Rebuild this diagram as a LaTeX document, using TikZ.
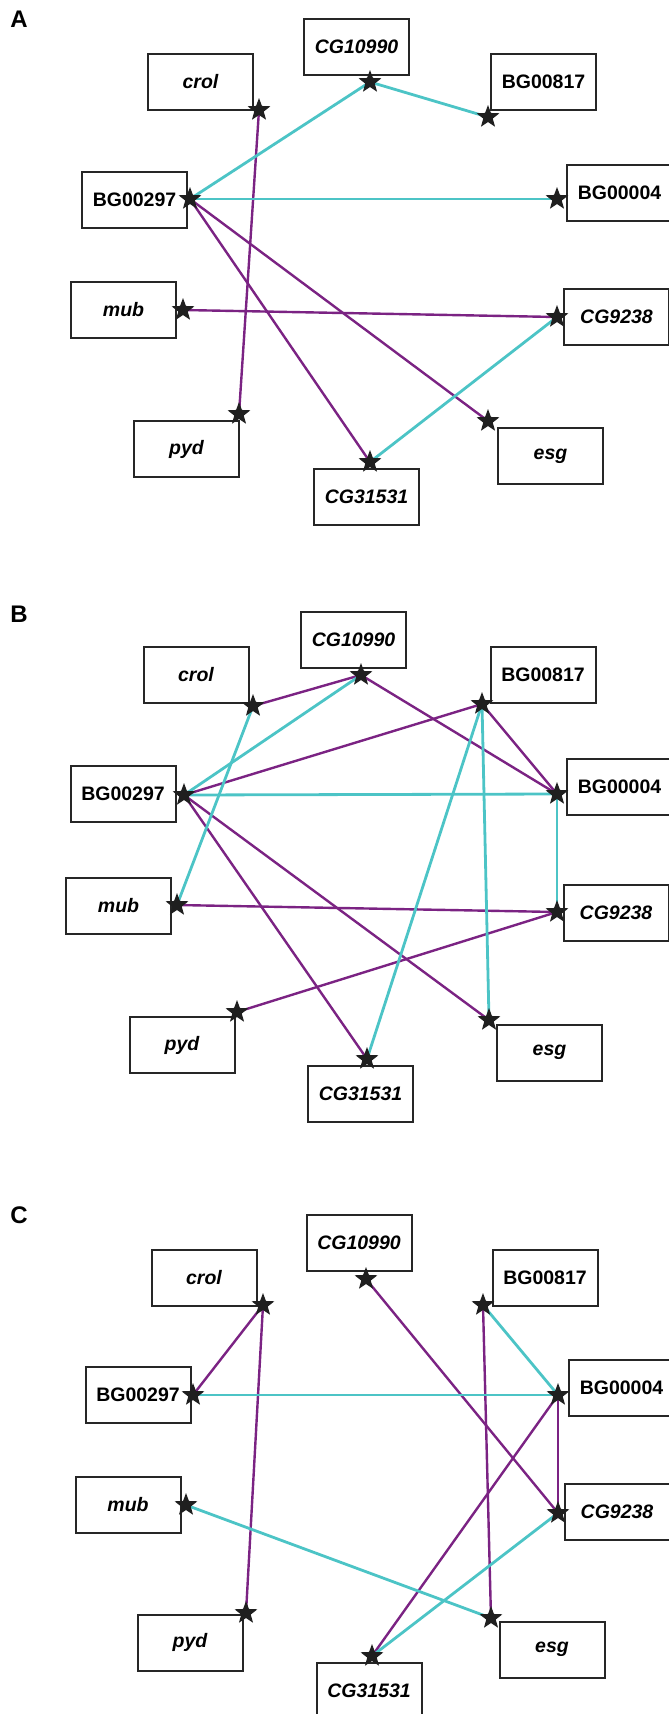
\documentclass[tikz,border=0pt]{standalone}
\usepackage{fontspec}
\setmainfont{Liberation Sans}
\usetikzlibrary{shapes.geometric,backgrounds}
\definecolor{cyanlink}{HTML}{4CC4C6}
\definecolor{plumlink}{HTML}{7B2383}

\begin{document}
\begin{tikzpicture}[x=1pt, y=-1pt,
    box/.style={draw=black!85, line width=2pt, minimum width=105pt, minimum height=56pt,
                inner sep=0pt, font=\fontsize{19.5}{20}\selectfont\bfseries},
    gene/.style={box, font=\fontsize{19.5}{20}\selectfont\bfseries\itshape},
    hub/.style={star, star points=5, star point ratio=2.4, fill=black!88, inner sep=0pt,
                minimum size=24pt},
    cy/.style={draw=cyanlink, line width=2.8pt},
    pu/.style={draw=plumlink, line width=2.4pt},
    panel/.style={font=\fontsize{24}{24}\selectfont\bfseries}]
  \useasboundingbox (0,0) rectangle (669,1714);

  % panel A
  \node[panel] (labA) at (19,19) {A};
  \node[gene] (A-crol)    at (200.5,82)  {crol};
  \node[gene] (A-CG10990) at (356.5,47)  {CG10990};
  \node[box]  (A-BG00817) at (543.5,82)  {BG00817};
  \node[box]  (A-BG00297) at (134.5,199.5) {BG00297};
  \node[box]  (A-BG00004) at (619.5,193) {BG00004};
  \node[gene] (A-mub)     at (123.5,310) {mub};
  \node[gene] (A-CG9238)  at (616.5,317) {CG9238};
  \node[gene] (A-pyd)     at (186.5,449) {pyd};
  \node[gene] (A-CG31531) at (366.5,497) {CG31531};
  \node[gene] (A-esg)     at (550.5,456) {esg};
  \foreach \n/\p in {crol/{259,110}, CG10990/{370,82}, BG00817/{488,117}, BG00297/{190,199},
                     BG00004/{557,199}, mub/{183,310}, CG9238/{557,317}, pyd/{239,414},
                     CG31531/{370,462}, esg/{488,421}}
    \node[hub] (sA-\n) at (\p) {};
  \begin{scope}[on background layer]
    \foreach \a/\b in {crol/pyd, mub/CG9238, BG00297/CG31531, BG00297/esg}
      \draw[pu] (sA-\a.center) -- (sA-\b.center);
    \foreach \a/\b in {BG00297/CG10990, CG10990/BG00817, BG00297/BG00004, CG9238/CG31531}
      \draw[cy] (sA-\a.center) -- (sA-\b.center);
  \end{scope}

  % panel B
  \node[panel] (labB) at (19,614) {B};
  \node[gene] (B-crol)    at (196,674.5)   {crol};
  \node[gene] (B-CG10990) at (353.5,640)   {CG10990};
  \node[box]  (B-BG00817) at (543,674.5)   {BG00817};
  \node[box]  (B-BG00297) at (123,793.5)   {BG00297};
  \node[box]  (B-BG00004) at (619.5,786.5) {BG00004};
  \node[gene] (B-mub)     at (118.5,905.5) {mub};
  \node[gene] (B-CG9238)  at (616,912.5)   {CG9238};
  \node[gene] (B-pyd)     at (182,1045)    {pyd};
  \node[gene] (B-CG31531) at (360.5,1094)  {CG31531};
  \node[gene] (B-esg)     at (549.5,1052.5) {esg};
  \foreach \n/\p in {crol/{253,706}, CG10990/{361,675}, BG00817/{482,704}, BG00297/{184,795},
                     BG00004/{557,794}, mub/{177,905}, CG9238/{557,912}, pyd/{237,1012},
                     CG31531/{367,1059}, esg/{489,1020}}
    \node[hub] (sB-\n) at (\p) {};
  \begin{scope}[on background layer]
    \foreach \a/\b in {crol/CG10990, CG10990/BG00004, BG00297/BG00817, BG00817/BG00004,
                       BG00297/CG31531, BG00297/esg, mub/CG9238, CG9238/pyd}
      \draw[pu] (sB-\a.center) -- (sB-\b.center);
    \foreach \a/\b in {BG00297/CG10990, crol/mub, BG00297/BG00004, BG00004/CG9238,
                       BG00817/CG31531, BG00817/esg}
      \draw[cy] (sB-\a.center) -- (sB-\b.center);
  \end{scope}

  % panel C
  \node[panel] (labC) at (19,1215) {C};
  \node[gene] (C-crol)    at (204,1278)   {crol};
  \node[gene] (C-CG10990) at (359,1243)   {CG10990};
  \node[box]  (C-BG00817) at (545,1278)   {BG00817};
  \node[box]  (C-BG00297) at (138,1395)   {BG00297};
  \node[box]  (C-BG00004) at (621.5,1388) {BG00004};
  \node[gene] (C-mub)     at (128,1505)   {mub};
  \node[gene] (C-CG9238)  at (617,1512)   {CG9238};
  \node[gene] (C-pyd)     at (190,1642.5) {pyd};
  \node[gene] (C-CG31531) at (369,1691)   {CG31531};
  \node[gene] (C-esg)     at (552,1649.5) {esg};
  \foreach \n/\p in {crol/{263,1305}, CG10990/{366,1279}, BG00817/{483,1305}, BG00297/{193,1395},
                     BG00004/{558,1395}, mub/{186,1505}, CG9238/{558,1513}, pyd/{246,1613},
                     CG31531/{372,1656}, esg/{491,1618}}
    \node[hub] (sC-\n) at (\p) {};
  \begin{scope}[on background layer]
    \foreach \a/\b in {crol/BG00297, crol/pyd, CG10990/CG9238, BG00817/esg,
                       BG00004/CG9238, BG00004/CG31531}
      \draw[pu] (sC-\a.center) -- (sC-\b.center);
    \foreach \a/\b in {BG00817/BG00004, BG00297/BG00004, mub/esg, CG9238/CG31531}
      \draw[cy] (sC-\a.center) -- (sC-\b.center);
  \end{scope}
\end{tikzpicture}
\end{document}
